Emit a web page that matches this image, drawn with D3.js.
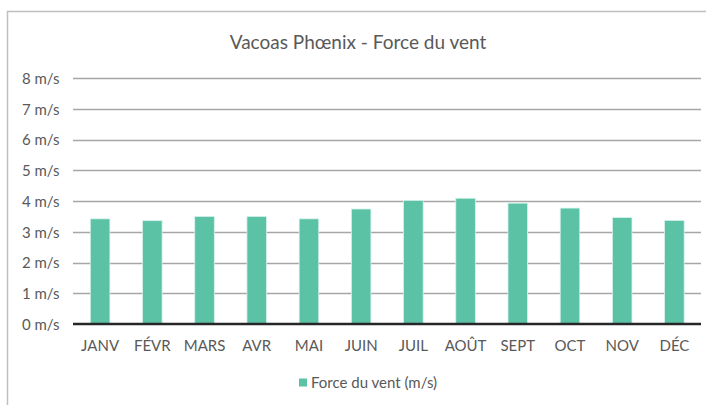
<!DOCTYPE html>
<html><head><meta charset="utf-8">
<script src="https://cdn.jsdelivr.net/npm/d3@7"></script>
<style>body{margin:0;background:#fff}svg{display:block}</style>
</head><body>
<script>
const months = ["JANV","FÉVR","MARS","AVR","MAI","JUIN","JUIL","AOÛT","SEPT","OCT","NOV","DÉC"];
const windSpeed = [3.42,3.36,3.50,3.50,3.42,3.74,4.02,4.09,3.93,3.77,3.46,3.37];
const yTicks = [0,1,2,3,4,5,6,7,8];
const title = "Vacoas Phœnix - Force du vent";
const seriesName = "Force du vent (m/s)";

const W = 706, H = 405;
const font = "Lato, 'Open Sans', sans-serif";
const txt = "#595959";
const svg = d3.select("body").append("svg").attr("width", W).attr("height", H);

// frame
svg.append("path").attr("d", `M7.5,${H} V11.5 H${W}`).attr("fill","none").attr("stroke","#bfbfbf").attr("stroke-width",1.5);

const x = d3.scaleBand().domain(months).range([74, 700.5]).paddingInner(0.625).paddingOuter(0.3125);
const y = d3.scaleLinear().domain([0,8]).range([324, 78]);

svg.append("text").attr("x", 358).attr("y", 49).attr("text-anchor","middle")
  .attr("font-family", font).attr("font-size", 19).attr("fill", txt).text(title);

// gridlines
svg.append("g").selectAll("line").data(yTicks.filter(d=>d>0)).join("line")
  .attr("x1", 73).attr("x2", 701).attr("y1", d=>Math.round(y(d))+0.5).attr("y2", d=>Math.round(y(d))+0.5)
  .attr("stroke", "#a6a6a6").attr("stroke-width", 1.5);

// y axis labels
const yAxis = d3.axisLeft(y).tickValues(yTicks).tickSize(0).tickPadding(0).tickFormat(d => d + " m/s");
const ya = svg.append("g").attr("transform", "translate(59.5,0.5)").call(yAxis);
ya.select(".domain").remove();
ya.selectAll("text").attr("font-family", font).attr("font-size", 15).attr("fill", txt);

// bars
svg.append("g").selectAll("rect").data(windSpeed).join("rect")
  .attr("x", (d,i)=>x(months[i])).attr("width", x.bandwidth())
  .attr("y", d=>y(d)).attr("height", d=>y(0)-y(d))
  .attr("fill", "#5cc2a6").attr("stroke","#d8f2ea").attr("stroke-width",0.8);

// x axis
const xAxis = d3.axisBottom(x).tickSize(0).tickPadding(16);
const xa = svg.append("g").attr("transform", `translate(0,${y(0)})`).call(xAxis);
xa.select(".domain").attr("stroke", "#262626").attr("stroke-width", 2.5).attr("d", "M73,0H701");
xa.selectAll("text").attr("font-family", font).attr("font-size", 15).attr("fill", txt);

// legend
const lg = svg.append("g").attr("transform", "translate(299,382.5)");
lg.append("rect").attr("x", 0).attr("y", -4).attr("width", 8).attr("height", 8).attr("fill", "#5cc2a6");
lg.append("text").attr("x", 12).attr("y", 0).attr("dy","0.35em").attr("font-family", font).attr("font-size", 15).attr("fill", txt).text(seriesName);
</script>
</body></html>
